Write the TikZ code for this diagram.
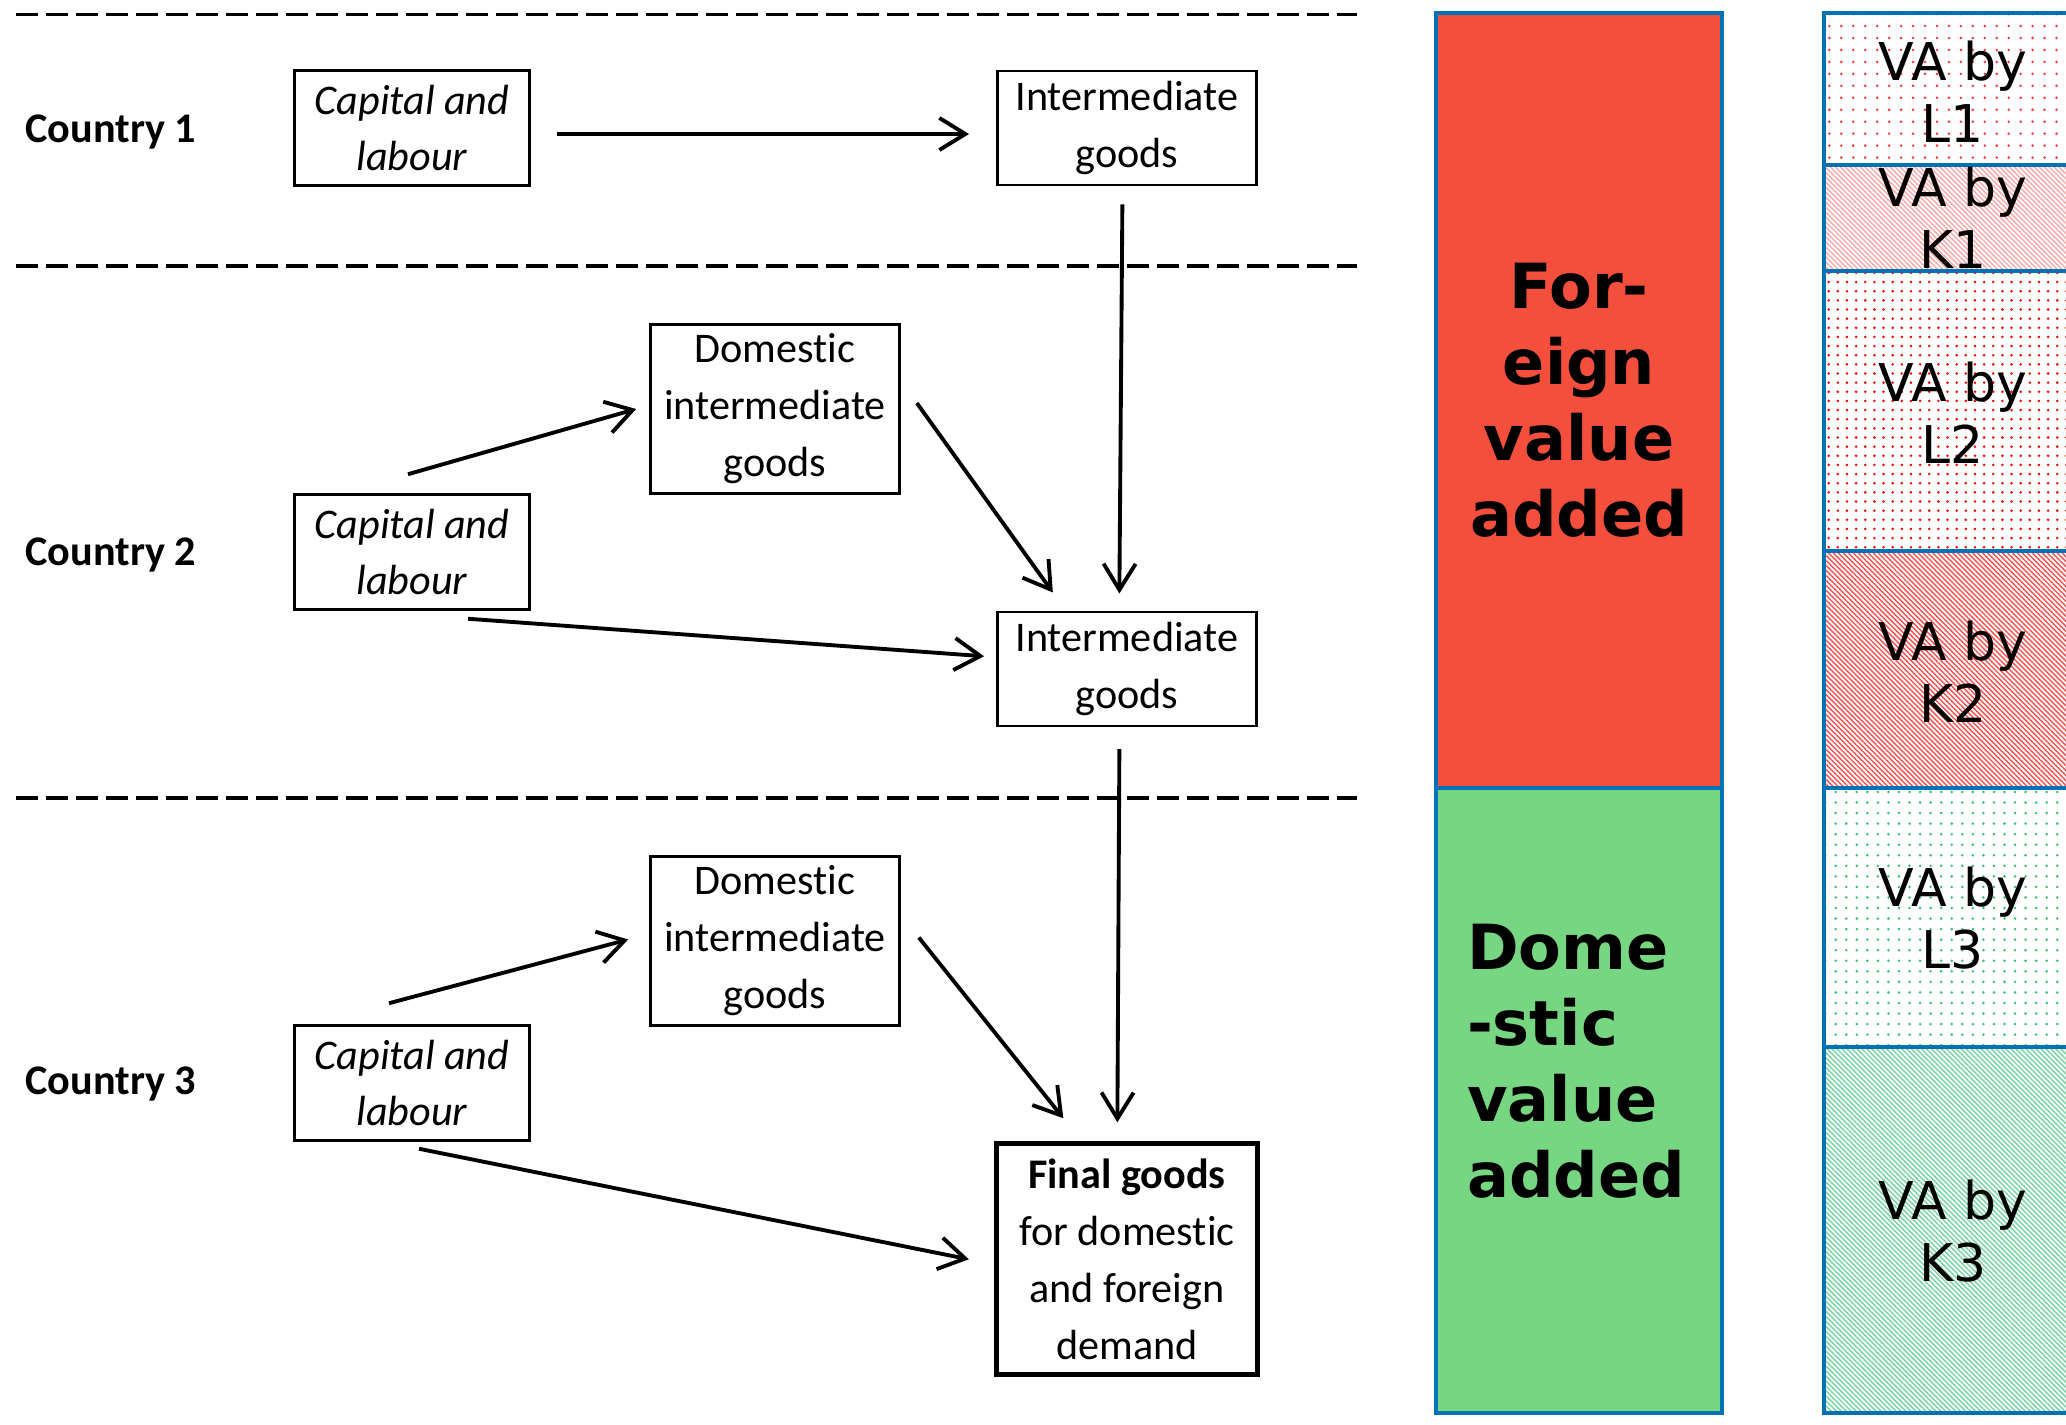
\documentclass[tikz,border=0pt]{standalone}
\usepackage{fontspec}
\setmainfont{Carlito}[Ligatures=NoCommon]
\newfontfamily\barfont{DejaVu Sans}
\usetikzlibrary{arrows.meta, positioning, patterns.meta}

\definecolor{barblue}{HTML}{0072B5}
\definecolor{fvared}{HTML}{F44E3C}
\definecolor{dvagreen}{HTML}{77D681}
\definecolor{patgreen}{HTML}{00B050}

\begin{document}
\begin{tikzpicture}[x=0.01cm, y=-0.01cm,
    every node/.style={align=center, font=\fontsize{12}{16.2}\selectfont},
    box/.style={draw, line width=0.7pt, inner sep=0pt},
    capbox/.style={box, minimum width=2.35cm, minimum height=1.15cm, font=\fontsize{12}{16.2}\selectfont\itshape},
    intbox/.style={box, minimum width=2.59cm, minimum height=1.14cm},
    dombox/.style={box, minimum width=2.49cm, minimum height=1.69cm},
    finalbox/.style={box, line width=1.4pt, minimum width=2.61cm, minimum height=2.31cm},
    country/.style={anchor=west, font=\fontsize{12}{16.2}\selectfont\bfseries},
    arrow/.style={line width=1.1pt, -{Straight Barb[length=0.26cm, width=0.32cm]}},
    border/.style={line width=1.1pt, dash pattern=on 0.22cm off 0.08cm},
    seg/.style={draw=barblue, line width=1.2pt},
    vabig/.style={font=\barfont\bfseries\fontsize{17.7}{21.6}\selectfont},
    vasmall/.style={font=\barfont\fontsize{14.8}{17.6}\selectfont}
    ]
    \useasboundingbox (0,0) rectangle (2066,1425);
    \clip (0,0) rectangle (2066,1425);

    % country borders
    \draw [border] (16,14.5) -- (1357,14.5);
    \draw [border] (16,266) -- (1357,266);
    \draw [border] (16,798) -- (1357,798);

    \node[country] (c1) at (13,132) {Country 1};
    \node[country] (c2) at (13,555) {Country 2};
    \node[country] (c3) at (13,1084) {Country 3};

    \node[capbox] (cap1) at (412,128) {Capital and\\labour};
    \node[intbox, right=4.65cm of cap1] (int1) {Intermediate\\goods};
    \node[dombox] (dom2) at (775,409) {Domestic\\intermediate\\goods};
    \node[capbox] (cap2) at (412,552) {Capital and\\labour};
    \node[intbox, below=4.24cm of int1] (int2) {Intermediate\\goods};
    \node[dombox] (dom3) at (775,941) {Domestic\\intermediate\\goods};
    \node[capbox] (cap3) at (412,1083) {Capital and\\labour};
    \node[finalbox, below=4.14cm of int2] (final) {\textbf{Final goods}\\for domestic\\and foreign\\demand};

    \draw [arrow] ([xshift=0.26cm, yshift=-0.06cm]cap1.east) -- ([xshift=-0.27cm, yshift=-0.06cm]int1.west);
    \draw [arrow] ([xshift=-0.045cm, yshift=-0.18cm]int1.south) -- ([xshift=-0.075cm, yshift=0.17cm]int2.north);
    \draw [arrow] ([xshift=-0.04cm, yshift=0.19cm]cap2.north) -- ([xshift=-0.13cm]dom2.west);
    \draw [arrow] ([xshift=0.16cm, yshift=0.06cm]dom2.east) -- ([xshift=-0.74cm, yshift=0.18cm]int2.north);
    \draw [arrow] ([xshift=0.56cm, yshift=-0.08cm]cap2.south) -- ([xshift=-0.12cm, yshift=0.125cm]int2.west);
    \draw [arrow] ([xshift=-0.075cm, yshift=-0.22cm]int2.south) -- ([xshift=-0.095cm, yshift=0.19cm]final.north);
    \draw [arrow] ([xshift=-0.23cm, yshift=0.21cm]cap3.north) -- ([xshift=-0.21cm, yshift=0.015cm]dom3.west);
    \draw [arrow] ([xshift=0.18cm, yshift=0.035cm]dom3.east) -- ([xshift=-0.635cm, yshift=0.23cm]final.north);
    \draw [arrow] ([xshift=0.07cm, yshift=-0.07cm]cap3.south) -- ([xshift=-0.25cm]final.west);

    % value added bars
    \draw [seg, fill=fvared] (1436,13) rectangle (1722,788);
    \draw [seg, fill=dvagreen] (1436,788) rectangle (1722,1413);
    \node[vabig] (fva) at (1579,400) {For-\\eign\\value\\added};
    \node[vabig, align=left] (dva) at (1576,1061) {Dome\\-stic\\value\\added};

    \draw [seg, pattern={Dots[radius=0.4pt, distance=3.4pt]}, pattern color=red!80] (1824,13) rectangle (2082,165);
    \draw [seg, pattern={Lines[angle=-45, distance=1pt, line width=0.4pt]}, pattern color=red!35] (1824,165) rectangle (2082,271);
    \draw [seg, pattern={Dots[radius=0.4pt, distance=2.6pt]}, pattern color=red] (1824,271) rectangle (2082,551);
    \draw [seg, pattern={Lines[angle=-45, distance=1pt, line width=0.4pt]}, pattern color=red!70] (1824,551) rectangle (2082,788);
    \draw [seg, pattern={Dots[radius=0.4pt, distance=3pt]}, pattern color=patgreen!80] (1824,788) rectangle (2082,1047);
    \draw [seg, pattern={Lines[angle=-45, distance=1pt, line width=0.4pt]}, pattern color=patgreen!55] (1824,1047) rectangle (2082,1413);

    \foreach \lbl/\yy in {L1/92, K1/218, L2/413, K2/672, L3/918, K3/1231}
        \node[vasmall] (va\lbl) at (1953,\yy) {VA by\\\lbl};

\end{tikzpicture}
\end{document}
